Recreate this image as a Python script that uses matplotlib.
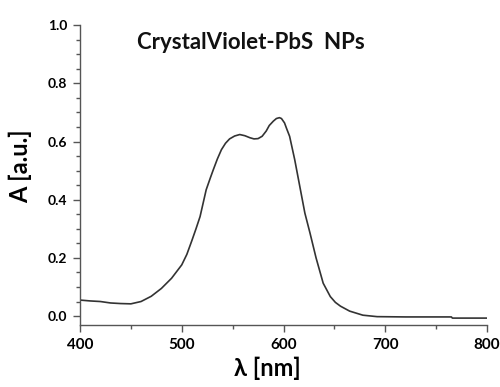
import matplotlib.pyplot as plt
from matplotlib.ticker import MultipleLocator

wavelength = [400, 410, 420, 430, 440, 450, 460, 470, 480, 490, 500, 505,
              510, 514, 518, 524, 528, 531, 535, 539, 543, 547, 552, 557,
              562, 567, 571, 575, 579, 583, 586, 590, 593, 596, 598, 601,
              603, 606, 611, 616, 621, 626, 632, 639, 646, 651, 656, 665,
              678, 692, 720, 765, 766, 800]
absorb = [0.055, 0.052, 0.050, 0.045, 0.043, 0.042, 0.050, 0.068, 0.095,
          0.130, 0.176, 0.212, 0.260, 0.300, 0.342, 0.434, 0.474, 0.503,
          0.540, 0.572, 0.594, 0.609, 0.619, 0.624, 0.620, 0.613, 0.609,
          0.610, 0.618, 0.636, 0.655, 0.670, 0.679, 0.682, 0.679, 0.664,
          0.645, 0.618, 0.538, 0.446, 0.354, 0.286, 0.200, 0.113, 0.067,
          0.047, 0.034, 0.017, 0.003, -0.002, -0.003, -0.003, -0.007, -0.007]

plt.rcParams['font.family'] = ['Lato', 'DejaVu Sans']

fig = plt.figure(figsize=(5.0, 3.87), dpi=100)
ax = fig.add_axes([0.16, 0.16, 0.814, 0.775])
ax.plot(wavelength, absorb, color='#333333', lw=1.2)

ax.set_xlim(400, 800)
ax.set_ylim(-0.031, 1.0)
ax.xaxis.set_major_locator(MultipleLocator(100))
ax.xaxis.set_minor_locator(MultipleLocator(50))
ax.yaxis.set_major_locator(MultipleLocator(0.2))
ax.yaxis.set_minor_locator(MultipleLocator(0.05))
ax.yaxis.set_major_formatter(lambda v, p: '%.1f' % v)

for s in ['top', 'right']:
    ax.spines[s].set_visible(False)
for s in ['left', 'bottom']:
    ax.spines[s].set_color('#555555')
    ax.spines[s].set_linewidth(1.0)

ax.tick_params(which='major', direction='out', length=5, width=1, color='#555555',
               labelsize=11, pad=4)
ax.tick_params(which='minor', direction='out', length=3, width=1, color='#555555')
ax.tick_params(axis='y', labelsize=10)
for lab in ax.get_xticklabels() + ax.get_yticklabels():
    lab.set_fontweight('bold')

ax.set_xlabel('λ [nm]', fontsize=17, fontweight='bold')
ax.set_ylabel('A [a.u.]', fontsize=17, fontweight='bold')
ax.xaxis.set_label_coords(0.46, -0.105)
ax.yaxis.set_label_coords(-0.118, 0.53)
ax.text(0.42, 0.943, 'CrystalViolet-PbS  NPs', transform=ax.transAxes,
        ha='center', va='center', fontsize=16, fontweight='bold', color='#111111')

fig.savefig('out.png', dpi=100)
